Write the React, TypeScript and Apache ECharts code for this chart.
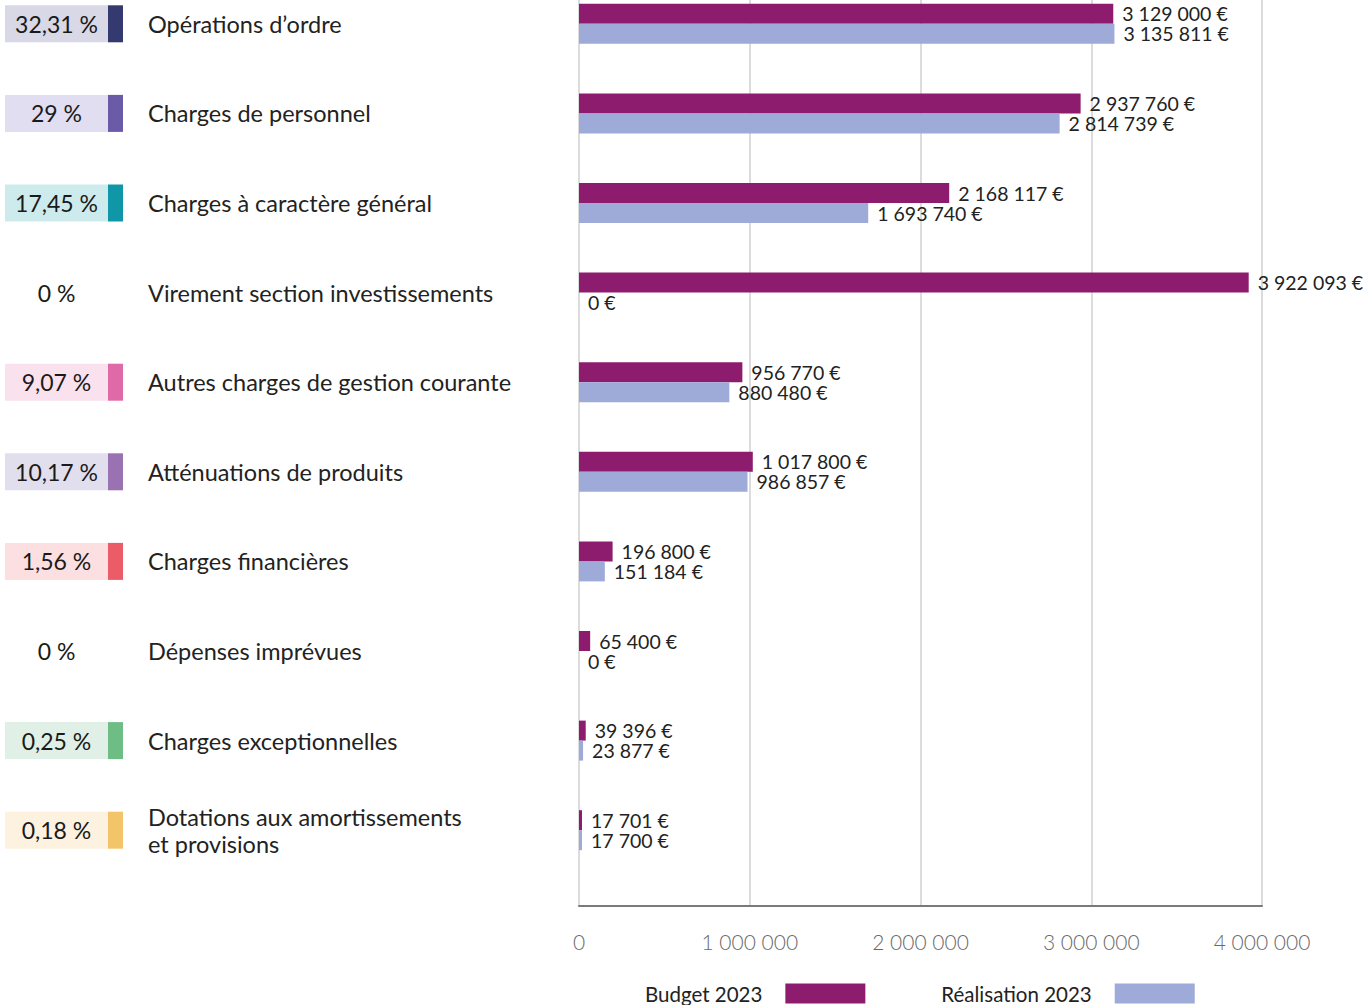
import React, { useEffect, useRef } from "react";
import * as echarts from "echarts";

const categories = [
  "Opérations d’ordre",
  "Charges de personnel",
  "Charges à caractère général",
  "Virement section investissements",
  "Autres charges de gestion courante",
  "Atténuations de produits",
  "Charges financières",
  "Dépenses imprévues",
  "Charges exceptionnelles",
  "Dotations aux amortissements\net provisions",
];
const shares = ["32,31 %", "29 %", "17,45 %", "0 %", "9,07 %", "10,17 %", "1,56 %", "0 %", "0,25 %", "0,18 %"];
const budget2023 = [3129000, 2937760, 2168117, 3922093, 956770, 1017800, 196800, 65400, 39396, 17701];
const realisation2023 = [3135811, 2814739, 1693740, 0, 880480, 986857, 151184, 0, 23877, 17700];
const xTicks = [0, 1000000, 2000000, 3000000, 4000000];
const seriesNames = ["Budget 2023", "Réalisation 2023"];

const boxBg = ["#d8d8e6", "#e0def0", "#cdebed", "#ffffff", "#fae1ee", "#e1deee", "#fcdfe1", "#ffffff", "#e0f0e6", "#fdf2df"];
const boxAccent = ["#343a70", "#6a5aa8", "#0f97a8", "#ffffff", "#e06aa8", "#9a72b2", "#eb5c68", "#ffffff", "#6dbd85", "#f4c46b"];

const FONT = "Lato, 'Noto Sans', sans-serif";

const fmt = (v: number) =>
  String(Math.round(v)).replace(/\B(?=(\d{3})+(?!\d))/g, " ") + " €";

export default function App() {
  const ref = useRef<HTMLDivElement>(null);
  useEffect(() => {
    document.body.style.margin = "0";
    const chart = echarts.init(ref.current!, null, { renderer: "svg" });
    const rich: Record<string, any> = {
      z: { width: 103, height: 37, align: "center", fontSize: 23, color: "#1a1a1a", fontFamily: FONT },
    };
    shares.forEach((_, i) => {
      rich["p" + i] = {
        width: 103, height: 37, lineHeight: 37, align: "center", fontSize: 23,
        color: "#1a1a1a", backgroundColor: boxBg[i], fontFamily: FONT,
      };
      rich["a" + i] = { width: 15, height: 37, backgroundColor: boxAccent[i] };
    });
    const xMax = xTicks[xTicks.length - 1];
    const xStep = xTicks[1] - xTicks[0];
    const valueLabel = {
      show: true, position: "right", distance: 9, fontSize: 19.5, lineHeight: 20, color: "#222", fontFamily: FONT,
      formatter: (p: any) => fmt(p.value),
    };
    chart.setOption({
      animation: false,
      textStyle: { fontFamily: FONT },
      grid: [
        { left: 579, right: 106, top: -21, height: 896, outerBoundsMode: "none", containLabel: false },
        { left: 579, right: 106, top: 875, height: 31, outerBoundsMode: "none", containLabel: false },
      ],
      legend: {
        data: seriesNames,
        left: 645,
        top: 983,
        align: "right",
        icon: "rect",
        itemWidth: 80,
        itemHeight: 20,
        itemGap: 76,
        padding: 0,
        textStyle: { fontSize: 20.5, lineHeight: 20, color: "#222", fontFamily: FONT, padding: [0, 18, 0, 0] },
      },
      xAxis: [
        {
          type: "value", gridIndex: 0, min: 0, max: xMax, interval: xStep,
          axisLine: { show: false }, axisTick: { show: false }, axisLabel: { show: false },
          splitLine: { show: true, lineStyle: { color: "#dcdcdc", width: 2 } },
        },
        {
          type: "value", gridIndex: 1, min: 0, max: xMax, interval: xStep,
          axisLine: { show: true, lineStyle: { color: "#7a7a7a", width: 2 } },
          axisTick: { show: false },
          axisLabel: {
            margin: 25, fontSize: 21, color: "#6a6a6a", fontWeight: 300, fontFamily: FONT,
            formatter: (v: number) => String(v).replace(/\B(?=(\d{3})+(?!\d))/g, " "),
          },
          splitLine: { show: true, lineStyle: { color: "#dcdcdc", width: 2 } },
        },
      ],
      yAxis: [
        {
          type: "category", gridIndex: 0, position: "left", inverse: true, data: categories,
          axisLine: { show: false }, axisTick: { show: false },
          axisLabel: {
            align: "left", margin: 574,
            formatter: (_: string, i: number) =>
              shares[i] === "0 %" ? `{z|${shares[i]}}` : `{p${i}|${shares[i]}}{a${i}|}`,
            rich,
          },
        },
        {
          type: "category", gridIndex: 0, position: "left", inverse: true, data: categories,
          axisLine: { show: false }, axisTick: { show: false },
          axisLabel: { align: "left", margin: 431, fontSize: 23.5, lineHeight: 27, color: "#222", fontFamily: FONT },
        },
        { type: "value", gridIndex: 1, show: false },
      ],
      series: [
        {
          name: seriesNames[0], type: "bar", xAxisIndex: 0, yAxisIndex: 0,
          data: budget2023, barWidth: 20, barGap: "0%",
          itemStyle: { color: "#8e1c6e" },
          label: valueLabel,
        },
        {
          name: seriesNames[1], type: "bar", xAxisIndex: 0, yAxisIndex: 0,
          data: realisation2023, barWidth: 20, barGap: "0%",
          itemStyle: { color: "#9eaad8" },
          label: valueLabel,
        },
      ],
    });
    return () => chart.dispose();
  }, []);
  return <div ref={ref} style={{ width: 1368, height: 1005 }} />;
}
